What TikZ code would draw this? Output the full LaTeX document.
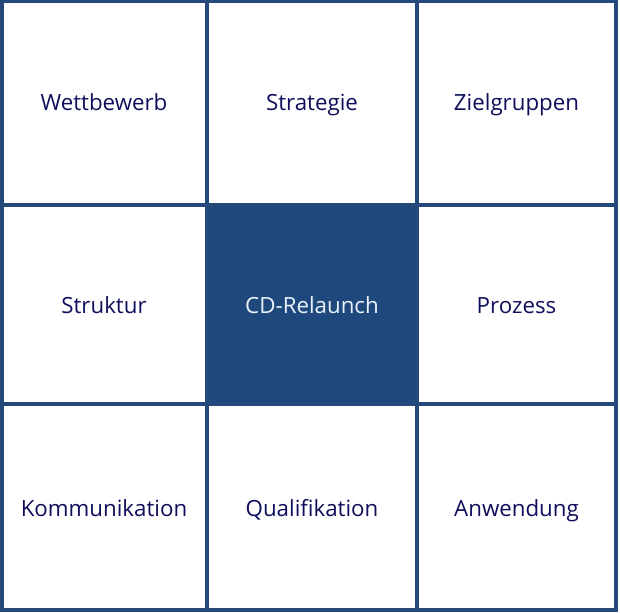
\documentclass[tikz,border=0pt]{standalone}
\usepackage{fontspec}
\setmainfont{Open Sans}
\definecolor{gridblue}{HTML}{24497A}
\definecolor{fillblue}{HTML}{1F497D}
\definecolor{textnavy}{HTML}{0E0E5C}
\definecolor{textlight}{HTML}{EAF2FA}
\begin{document}
\begin{tikzpicture}[x=1pt,y=-1pt,
  lab/.style={text=textnavy,font=\fontsize{22.3}{26}\selectfont,inner sep=0pt,anchor=base}]
\useasboundingbox (0,0) rectangle (620,612);
% center fill
\fill[fillblue] (206.5,205) rectangle (417,404);
% grid
\draw[gridblue,line width=4pt] (2,1.5) rectangle (616,610);
\draw[gridblue,line width=4pt] (206.5,1.5) -- (206.5,610);
\draw[gridblue,line width=4pt] (417,1.5) -- (417,610);
\draw[gridblue,line width=4pt] (2,205) -- (616,205);
\draw[gridblue,line width=4pt] (2,404) -- (616,404);
% labels
\node[lab] (a1) at (104,111) {Wettbewerb};
\node[lab] (a2) at (312,111) {Strategie};
\node[lab] (a3) at (516.5,111) {Zielgruppen};
\node[lab] (b1) at (104,313) {Struktur};
\node[lab,text=textlight] (b2) at (312,313) {CD-Relaunch};
\node[lab] (b3) at (516.5,313) {Prozess};
\node[lab] (c1) at (104,516) {Kommunikation};
\node[lab] (c2) at (312,516) {Qualifikation};
\node[lab] (c3) at (516.5,516) {Anwendung};
\end{tikzpicture}
\end{document}
